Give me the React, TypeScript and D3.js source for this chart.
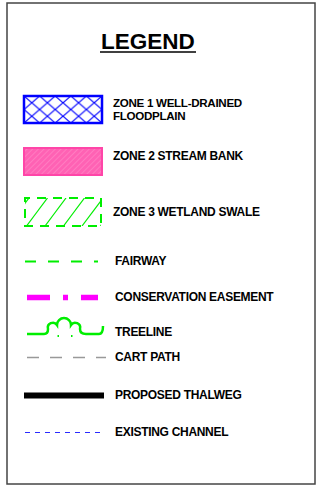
import React from "react";
import * as d3 from "d3";

// legend entries, top to bottom
const zoneLabels = [
  ["ZONE 1 WELL-DRAINED", "FLOODPLAIN"],
  ["ZONE 2 STREAM BANK"],
  ["ZONE 3 WETLAND SWALE"],
];
const lineLabels = [
  "FAIRWAY",
  "CONSERVATION EASEMENT",
  "TREELINE",
  "CART PATH",
  "PROPOSED THALWEG",
  "EXISTING CHANNEL",
];
const title = "LEGEND";

const allKeys = [...zoneLabels.map((z) => z[0]), ...lineLabels];

const W = 317;
const H = 487;

// baseline of each row's label
const rowY = d3
  .scaleOrdinal<string, number>()
  .domain(allKeys)
  .range([108, 160, 216, 265, 301, 336, 361, 399, 436]);

const font = "'Liberation Sans', Arial, sans-serif";

const App = () => {
  const symX0 = 24;
  const symX1 = 102;
  const textX = 114;

  const z1 = rowY(allKeys[0]);
  const z2 = rowY(allKeys[1]);
  const z3 = rowY(allKeys[2]);

  const lineY = (k: string) => rowY(k) - 3.5;

  // treeline symbol
  const ty = lineY("TREELINE") + 1.5;
  const tree = d3.path();
  tree.moveTo(27, ty);
  tree.lineTo(44, ty);
  tree.quadraticCurveTo(48, ty, 48, ty - 5);
  const treeStr =
    tree.toString() +
    ` A5,5 0 0 1 57,${ty - 9} A7,7 0 0 1 71,${ty - 9} A5,5 0 0 1 80,${ty - 5}` +
    ` Q80,${ty} 86,${ty} H99 Q103,${ty} 103,${ty - 8}`;

  return (
    <svg
      width={W}
      height={H}
      style={{ position: "absolute", left: 0, top: 0, background: "#fff" }}
    >
      <defs>
        <pattern
          id="cross"
          patternUnits="userSpaceOnUse"
          x={symX0}
          y={z1 - 12}
          width={15.6}
          height={13.5}
        >
          <path d="M0,0 L15.6,13.5 M0,13.5 L15.6,0" stroke="#0000ff" strokeWidth={1.1} />
        </pattern>
        <pattern
          id="pinkHatch"
          patternUnits="userSpaceOnUse"
          width={4}
          height={4}
          patternTransform="rotate(45)"
        >
          <rect width={4} height={4} fill="#ff62b4" />
          <line x1={0} y1={0} x2={0} y2={4} stroke="#ff94cc" strokeWidth={1} />
        </pattern>
        <clipPath id="z3clip">
          <rect x={symX0 + 1} y={z3 - 18} width={76} height={28} />
        </clipPath>
      </defs>

      {/* outer frame */}
      <rect x={7} y={3} width={308} height={481} fill="none" stroke="#444" strokeWidth={1.5} />

      {/* title */}
      <text
        x={148}
        y={49}
        textAnchor="middle"
        fontFamily={font}
        fontWeight="bold"
        fontSize={22.5}
        fill="#000"
      >
        {title}
      </text>
      <line x1={100} x2={196} y1={52} y2={52} stroke="#000" strokeWidth={1.5} />

      {/* zone 1 */}
      <rect
        x={symX0}
        y={z1 - 12}
        width={symX1 - symX0}
        height={27}
        fill="url(#cross)"
        stroke="#0000ff"
        strokeWidth={2.5}
      />
      {/* zone 2 */}
      <rect
        x={symX0}
        y={z2 - 12}
        width={symX1 - symX0}
        height={27}
        fill="url(#pinkHatch)"
        stroke="#ff45a8"
        strokeWidth={2}
      />
      {/* zone 3 */}
      <g clipPath="url(#z3clip)">
        {d3.range(0, 6).map((i) => {
          const bx = symX0 - 16 + i * 18.5;
          return (
            <line
              key={i}
              x1={bx}
              y1={z3 + 10}
              x2={bx + 21}
              y2={z3 - 18}
              stroke="#00ee00"
              strokeWidth={1.2}
            />
          );
        })}
      </g>
      <rect
        x={symX0 + 1}
        y={z3 - 18}
        width={76}
        height={28}
        fill="none"
        stroke="#00ee00"
        strokeWidth={2}
        strokeDasharray="9 7"
        strokeDashoffset={4}
      />

      {/* fairway */}
      <line
        x1={25}
        x2={98}
        y1={lineY("FAIRWAY")}
        y2={lineY("FAIRWAY")}
        stroke="#00ee00"
        strokeWidth={2}
        strokeDasharray="11 12"
      />
      {/* conservation easement */}
      <line
        x1={27}
        x2={98}
        y1={lineY("CONSERVATION EASEMENT")}
        y2={lineY("CONSERVATION EASEMENT")}
        stroke="#ff00ff"
        strokeWidth={5.5}
        strokeDasharray="23 13 5 13 18"
      />
      {/* treeline */}
      <path d={treeStr} fill="none" stroke="#00ee00" strokeWidth={2.5} />
      <rect x={57.5} y={ty + 1} width={1.5} height={2} fill="#00ee00" />
      <rect x={71} y={ty + 1} width={1.5} height={2} fill="#00ee00" />
      {/* cart path */}
      <line
        x1={27}
        x2={106}
        y1={lineY("CART PATH")}
        y2={lineY("CART PATH")}
        stroke="#999"
        strokeWidth={1.3}
        strokeDasharray="12 11"
      />
      {/* proposed thalweg */}
      <line
        x1={24}
        x2={104}
        y1={lineY("PROPOSED THALWEG")}
        y2={lineY("PROPOSED THALWEG")}
        stroke="#000"
        strokeWidth={6}
      />
      {/* existing channel */}
      <line
        x1={25}
        x2={100}
        y1={lineY("EXISTING CHANNEL")}
        y2={lineY("EXISTING CHANNEL")}
        stroke="#2a2aff"
        strokeWidth={1}
        strokeDasharray="5 5"
      />

      {/* labels */}
      <g fontFamily={font} fontWeight="bold" fontSize={12} letterSpacing={-0.3} fill="#000">
        {zoneLabels.map((z) =>
          z.map((t, j) => (
            <text
              key={t}
              x={textX - 1}
              y={rowY(z[0]) + (z.length > 1 ? -1.5 + j * 13.5 : 0)}
              fontSize={z.length > 1 ? 11.6 : 12}
            >
              {t}
            </text>
          ))
        )}
        {lineLabels.map((t) => (
          <text key={t} x={textX + 1} y={rowY(t)}>
            {t}
          </text>
        ))}
      </g>
    </svg>
  );
};

export default App;
